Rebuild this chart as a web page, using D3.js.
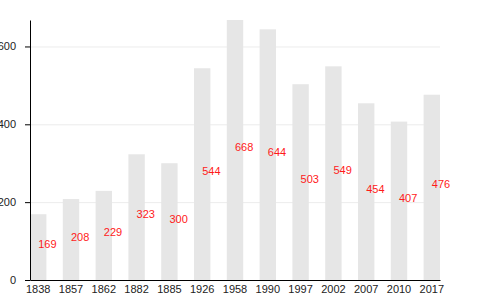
<!DOCTYPE html>
<html lang="en">
<head>
<meta charset="utf-8">
<title>Population by year</title>
<script src="https://cdn.jsdelivr.net/npm/d3@7/dist/d3.min.js"></script>
<style>
body { margin: 0; background: #fff; }
text { font-family: "Liberation Sans", Arial, sans-serif; }
.bar { fill: #e6e6e6; }
.grid line { stroke: #ececec; }
.grid path { display: none; }
.label { fill: #ff1a1a; font-size: 11px; }
.axis text { fill: #222; font-size: 11px; }
</style>
</head>
<body>
<script>

var years = ["1838", "1857", "1862", "1882", "1885", "1926", "1958",
             "1990", "1997", "2002", "2007", "2010", "2017"];
var population = [169, 208, 229, 323, 300, 544, 668, 644, 503, 549, 454, 407, 476];
var yTicks = [0, 200, 400, 600];

var width = 480, height = 300;
var plotLeft = 30, plotRight = 440, plotTop = 20, plotBottom = 280;

var svg = d3.select("body")
  .append("svg")
  .attr("width", width)
  .attr("height", height);

var blur = svg.append("defs").append("filter")
  .attr("id", "soft")
  .attr("x", "-20%").attr("width", "140%");
blur.append("feGaussianBlur").attr("stdDeviation", "0.7");

var x = d3.scaleBand()
  .domain(years)
  .range([plotLeft, plotRight])
  .paddingInner(0.5)
  .paddingOuter(0);

var y = d3.scaleLinear()
  .domain([0, d3.max(population)])
  .range([plotBottom, plotTop]);

// light gridlines behind the bars
svg.append("g")
  .attr("class", "grid")
  .attr("transform", "translate(" + plotLeft + ",0)")
  .call(d3.axisRight(y).tickValues(yTicks.slice(1)).tickSize(plotRight - plotLeft).tickFormat(""));

var data = years.map(function(d, i) { return {year: d, value: population[i]}; });

svg.selectAll(".bar")
  .data(data)
  .enter()
  .append("rect")
  .attr("class", "bar")
  .attr("filter", "url(#soft)")
  .attr("x", function(d) { return x(d.year); })
  .attr("width", x.bandwidth())
  .attr("y", function(d) { return y(d.value); })
  .attr("height", function(d) { return plotBottom - y(d.value); });

// value labels sit half way up each bar, starting at its centre
svg.selectAll(".label")
  .data(data)
  .enter()
  .append("text")
  .attr("class", "label")
  .attr("x", function(d) { return x(d.year) + x.bandwidth() / 2; })
  .attr("y", function(d) { return (y(d.value) + plotBottom) / 2 + 1; })
  .text(function(d) { return d.value; });

var yAxis = svg.append("g")
  .attr("class", "axis")
  .attr("transform", "translate(" + plotLeft + ",0)")
  .call(d3.axisLeft(y).tickValues(yTicks).tickSize(5).tickPadding(9).tickSizeOuter(0));
yAxis.select(".domain").attr("stroke", "#000");
yAxis.selectAll("text").attr("font-family", null).attr("font-size", null);

var xAxis = svg.append("g")
  .attr("class", "axis")
  .attr("transform", "translate(0," + plotBottom + ")")
  .call(d3.axisBottom(x).tickSize(0).tickPadding(5));
xAxis.select(".domain").attr("stroke", "#000");
xAxis.selectAll("text").attr("font-family", null).attr("font-size", null);

</script>
</body>
</html>
